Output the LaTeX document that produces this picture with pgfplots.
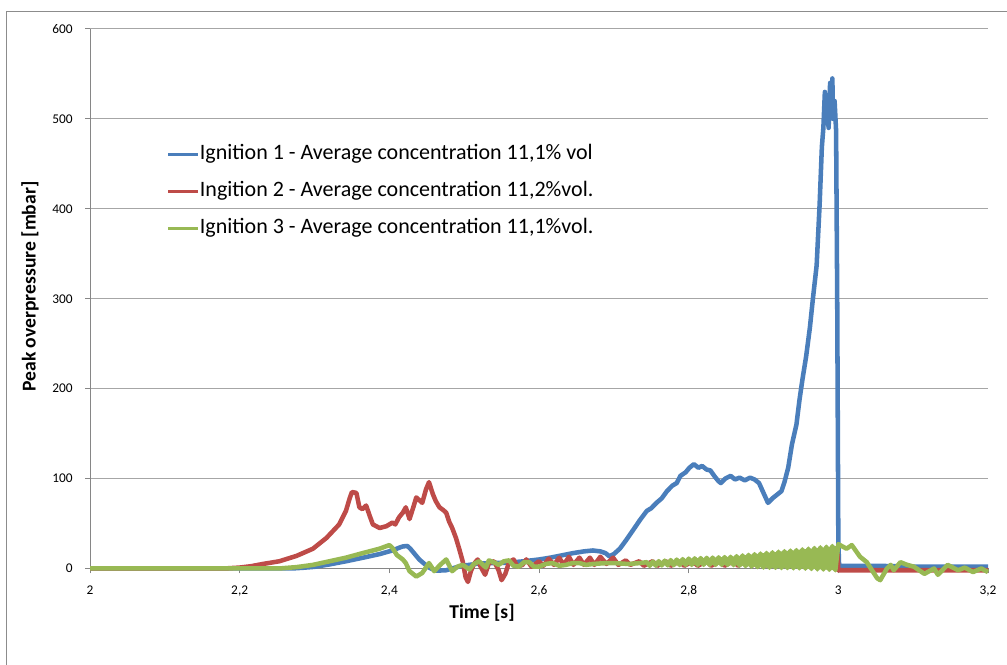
\documentclass[border=0pt]{standalone}
\usepackage{fontspec}
\setmainfont{Carlito}
\usepackage{pgfplots}
\pgfplotsset{compat=1.18}
\definecolor{s1}{HTML}{4A7EBB}
\definecolor{s2}{HTML}{BE4B48}
\definecolor{s3}{HTML}{98B954}
\definecolor{gridc}{HTML}{A6A6A6}
\definecolor{axc}{HTML}{868686}
\definecolor{borderc}{HTML}{8C8C8C}
\begin{document}
\begin{tikzpicture}
\begin{axis}[
  scale only axis,
  width=673.5pt, height=404.6pt,
  xmin=2, xmax=3.2, ymin=0, ymax=600,
  clip=false,
  axis x line*=bottom, axis y line*=left,
  axis line style={axc, line width=0.75pt},
  xtick={2,2.2,2.4,2.6,2.8,3,3.2},
  ytick={0,100,200,300,400,500,600},
  tick align=outside,
  major tick length=3.75pt,
  tick style={axc, line width=0.75pt},
  ymajorgrids,
  grid style={gridc, line width=0.75pt},
  /pgf/number format/use comma,
  /pgf/number format/assume math mode=true,
  ticklabel style={font=\fontsize{10}{12}\selectfont, text=black},
  yticklabel style={anchor=east, inner sep=0pt, xshift=-9pt},
  xticklabel style={anchor=north, inner sep=0pt, yshift=-9pt},
  xlabel={Time [s]},
  ylabel={Peak overpressure [mbar]},
  label style={font=\fontsize{14.7}{17}\selectfont\bfseries},
  xlabel style={at={(axis description cs:0.4365,-0.0816)}, anchor=center},
  ylabel style={at={(axis description cs:-0.0668,0.5227)}, anchor=center},
  legend style={draw=none, fill=none, at={(rel axis cs:0.0857,0.787)}, anchor=north west,
    inner sep=0pt, outer sep=0pt, font=\fontsize{16.5}{19}\selectfont, row sep=11.75pt,
    nodes={inner sep=0pt, text height=12pt, text depth=4pt},
    /tikz/every even column/.append style={column sep=1.5pt}},
  legend cell align=left,
  legend image code/.code={\draw[#1, line width=2.25pt] (0pt,0pt) -- (22.5pt,0pt);},
]
\coordinate (SW) at (rel axis cs:0,0);
\coordinate (NE) at (rel axis cs:1,1);
\addplot[s1, line width=3.4pt, line join=round] coordinates {
(2.000,0) (2.270,0) (2.285,0.8) (2.300,1.8) (2.320,4.5) (2.342,8) (2.365,12) (2.387,16)
(2.404,20) (2.413,23) (2.418,24.5) (2.424,25) (2.428,22) (2.434,16) (2.440,10) (2.447,5)
(2.453,1) (2.462,-2.5) (2.476,-2) (2.488,1) (2.498,3) (2.52,5.5) (2.54,6) (2.56,6.5)
(2.58,8) (2.60,10) (2.615,12) (2.63,14.5) (2.645,17) (2.66,19) (2.672,20) (2.682,19)
(2.689,17) (2.694,13.5) (2.700,16) (2.708,22) (2.716,31) (2.726,43) (2.735,54) (2.744,64)
(2.750,67) (2.757,73) (2.764,78) (2.771,86) (2.778,92) (2.784,95) (2.789,103) (2.796,107)
(2.801,112) (2.807,116) (2.813,112) (2.818,114) (2.824,110) (2.829,109) (2.835,102) (2.840,97)
(2.843,95) (2.849,100) (2.856,103) (2.862,99) (2.868,101) (2.875,98) (2.882,101) (2.888,99)
(2.894,95) (2.900,84) (2.906,73) (2.912,78) (2.918,82) (2.924,86) (2.928,96) (2.933,112)
(2.938,138) (2.944,160) (2.948,187) (2.952,210) (2.957,236) (2.962,268) (2.966,300) (2.971,337)
(2.975,405) (2.978,469) (2.980,490) (2.982,530) (2.983,500) (2.985,515) (2.987,490) (2.989,540)
(2.990,505) (2.992,545) (2.993,500) (2.995,520) (2.997,487) (2.9985,300) (3.000,30) (3.001,3)
(3.05,3) (3.10,2) (3.20,2)
};
\addlegendentry{Ignition 1 - Average concentration 11,1\% vol}
\addplot[s2, line width=3.4pt, line join=round] coordinates {
(2.000,0) (2.180,0) (2.200,1) (2.215,2.5) (2.231,5) (2.253,8) (2.276,14) (2.298,22)
(2.316,34) (2.333,49) (2.342,64) (2.347,78) (2.350,85) (2.356,84) (2.360,68) (2.364,66)
(2.369,70) (2.374,58) (2.378,49) (2.387,45) (2.396,47) (2.404,51) (2.408,49) (2.413,57)
(2.418,62) (2.422,68) (2.427,55) (2.432,68) (2.436,79) (2.440,76) (2.444,73) (2.449,88)
(2.453,96) (2.458,83) (2.462,75) (2.467,68) (2.472,65) (2.476,62) (2.480,52) (2.484,45)
(2.489,34) (2.494,20) (2.498,8) (2.502,-10) (2.505,-15) (2.509,-3) (2.513,5) (2.518,10)
(2.522,2) (2.528,-7) (2.533,6) (2.540,8) (2.546,-2) (2.550,-13) (2.555,-6) (2.560,7)
(2.566,10) (2.571,2) (2.578,4) (2.583,10) (2.590,2) (2.600,8) (2.606,3) (2.613,11)
(2.620,4) (2.627,12) (2.633,4) (2.640,13) (2.646,4) (2.654,12) (2.660,4) (2.668,12)
(2.674,4) (2.682,13) (2.690,5) (2.699,12) (2.706,4) (2.716,9) (2.722,4) (2.734,8)
(2.740,3) (2.752,8) (2.758,3) (2.770,8) (2.776,3) (2.788,8) (2.794,3) (2.806,8)
(2.812,3) (2.824,8) (2.830,3) (2.842,8) (2.848,3) (2.860,8) (2.866,3) (2.878,9)
(2.884,3) (2.896,9) (2.902,3) (2.920,10) (2.940,12) (2.960,13) (2.980,15) (2.999,16)
(3.000,-2) (3.200,-2)
};
\addlegendentry{Ingition 2 - Average concentration 11,2\%vol.}
\addplot[s3, line width=3.4pt, line join=round] coordinates {
(2.000,0) (2.253,0) (2.276,1.5) (2.298,4) (2.320,8) (2.342,12) (2.364,17) (2.387,22)
(2.400,26) (2.404,23) (2.410,15) (2.418,10) (2.422,6) (2.427,-3) (2.436,-9) (2.444,-5)
(2.453,6) (2.460,-3) (2.468,4) (2.476,10) (2.484,-3) (2.491,2) (2.498,4) (2.507,-1)
(2.513,5) (2.520,8) (2.529,1) (2.533,9) (2.542,6) (2.546,4) (2.553,8) (2.560,9)
(2.566,3) (2.573,2) (2.580,7) (2.587,7) (2.593,2) (2.600,2) (2.609,5) (2.618,6)
(2.627,3) (2.636,4) (2.645,6) (2.654,6) (2.663,4) (2.672,5) (2.690,6) (2.700,6)
(2.720,5) (2.735,6)
(2.744,7) (2.748,3) (2.752,7.6) (2.756,3.2) (2.760,8.1) (2.764,3.4) (2.768,8.7) (2.772,3.5)
(2.776,9.3) (2.780,3.6) (2.784,9.9) (2.788,3.8) (2.792,10.4) (2.796,3.9) (2.800,11) (2.804,4)
(2.808,11.3) (2.812,4) (2.816,11.6) (2.820,4) (2.824,11.9) (2.828,4) (2.832,12.1) (2.836,4)
(2.840,12.4) (2.844,4) (2.848,12.7) (2.852,4) (2.856,13) (2.860,3.7) (2.864,13.7) (2.868,3.2)
(2.872,14.5) (2.876,2.6) (2.880,15.2) (2.884,2.1) (2.888,15.9) (2.892,1.5) (2.896,16.6) (2.900,1)
(2.904,17.3) (2.908,0.8) (2.912,18) (2.916,0.7) (2.920,18.6) (2.924,0.5) (2.928,19.2) (2.932,0.4)
(2.936,19.9) (2.940,0.2) (2.944,20.5) (2.948,0.1) (2.952,21.2) (2.956,-0.2) (2.960,22) (2.964,-0.6)
(2.968,22.8) (2.972,-1) (2.976,23.5) (2.980,-1.2) (2.984,24.2) (2.988,-1.5) (2.992,25) (2.996,-2)
(3.000,27) (3.011,22) (3.018,26) (3.029,13) (3.038,7) (3.052,-11) (3.056,-13) (3.065,0)
(3.070,4) (3.074,-2) (3.083,7) (3.092,4) (3.101,2) (3.115,-6) (3.128,0) (3.133,-7)
(3.146,4) (3.160,-2) (3.169,1) (3.180,-4) (3.191,0) (3.200,-4)
};
\addlegendentry{Ignition 3 - Average concentration 11,1\%vol.}
\addplot[fill=s3, draw=none, forget plot] coordinates {
(2.744,7) (2.800,11) (2.856,13) (2.900,17) (2.950,21) (2.998,25)
(2.998,-2) (2.950,0) (2.900,1) (2.856,4) (2.800,4) (2.744,3)
};
\end{axis}
\pgfresetboundingbox
\path[use as bounding box] ([xshift=-67.5pt, yshift=-71.8pt]SW) rectangle ([xshift=14.25pt, yshift=21.75pt]NE);
\draw[borderc, line width=0.75pt] ([xshift=-62.25pt, yshift=-90pt]SW) |- ([xshift=30pt, yshift=13.1pt]NE);
\end{tikzpicture}
\end{document}
